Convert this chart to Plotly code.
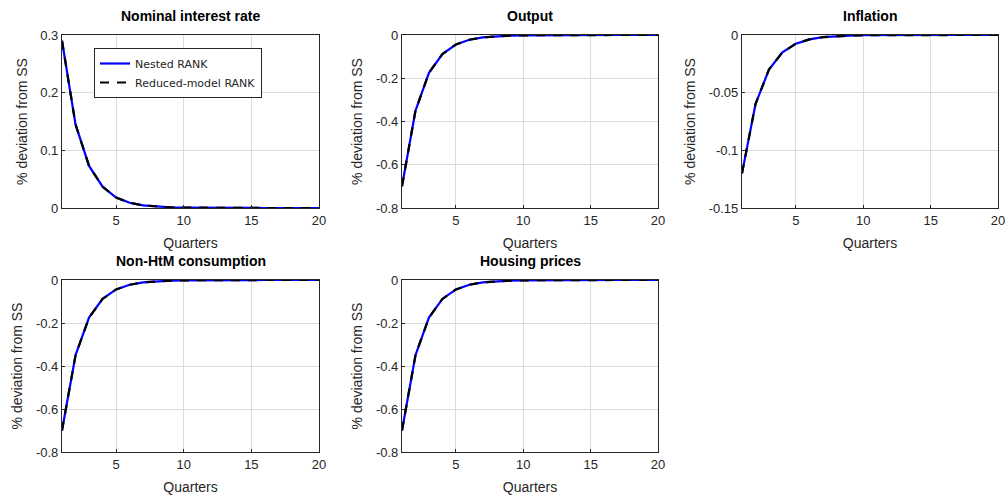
import plotly.graph_objects as go

quarters = list(range(1, 21))

rate_nested = [0.29, 0.145, 0.073, 0.037, 0.018, 0.009, 0.0045, 0.0023, 0.0011, 0.0006,
               0.0003, 0.00015, 0.00007, 0.00004, 0.00002, 0.00001, 0.0, 0.0, 0.0, 0.0]
rate_reduced = [0.29, 0.145, 0.073, 0.037, 0.018, 0.009, 0.0045, 0.0023, 0.0011, 0.0006,
                0.0003, 0.00015, 0.00007, 0.00004, 0.00002, 0.00001, 0.0, 0.0, 0.0, 0.0]
output_nested = [-0.70, -0.35, -0.175, -0.088, -0.044, -0.022, -0.011, -0.0055, -0.0027, -0.0014,
                 -0.0007, -0.00035, -0.00017, -0.00009, -0.00004, -0.00002, -0.00001, 0.0, 0.0, 0.0]
output_reduced = [-0.70, -0.35, -0.175, -0.088, -0.044, -0.022, -0.011, -0.0055, -0.0027, -0.0014,
                  -0.0007, -0.00035, -0.00017, -0.00009, -0.00004, -0.00002, -0.00001, 0.0, 0.0, 0.0]
infl_nested = [-0.12, -0.060, -0.030, -0.015, -0.0075, -0.0038, -0.0019, -0.0009, -0.0005, -0.00023,
               -0.00012, -0.00006, -0.00003, -0.000015, -0.000007, 0.0, 0.0, 0.0, 0.0, 0.0]
infl_reduced = [-0.12, -0.060, -0.030, -0.015, -0.0075, -0.0038, -0.0019, -0.0009, -0.0005, -0.00023,
                -0.00012, -0.00006, -0.00003, -0.000015, -0.000007, 0.0, 0.0, 0.0, 0.0, 0.0]
cons_nested = [-0.70, -0.35, -0.175, -0.088, -0.044, -0.022, -0.011, -0.0055, -0.0027, -0.0014,
               -0.0007, -0.00035, -0.00017, -0.00009, -0.00004, -0.00002, -0.00001, 0.0, 0.0, 0.0]
cons_reduced = [-0.70, -0.35, -0.175, -0.088, -0.044, -0.022, -0.011, -0.0055, -0.0027, -0.0014,
                -0.0007, -0.00035, -0.00017, -0.00009, -0.00004, -0.00002, -0.00001, 0.0, 0.0, 0.0]
house_nested = [-0.70, -0.35, -0.175, -0.088, -0.044, -0.022, -0.011, -0.0055, -0.0027, -0.0014,
                -0.0007, -0.00035, -0.00017, -0.00009, -0.00004, -0.00002, -0.00001, 0.0, 0.0, 0.0]
house_reduced = [-0.70, -0.35, -0.175, -0.088, -0.044, -0.022, -0.011, -0.0055, -0.0027, -0.0014,
                 -0.0007, -0.00035, -0.00017, -0.00009, -0.00004, -0.00002, -0.00001, 0.0, 0.0, 0.0]

titles = ["Nominal interest rate", "Output", "Inflation", "Non-HtM consumption", "Housing prices"]
series = [(rate_nested, rate_reduced), (output_nested, output_reduced), (infl_nested, infl_reduced),
          (cons_nested, cons_reduced), (house_nested, house_reduced)]
y_ranges = [[0, 0.3], [-0.8, 0], [-0.15, 0], [-0.8, 0], [-0.8, 0]]
y_ticks = [[0, 0.1, 0.2, 0.3], [-0.8, -0.6, -0.4, -0.2, 0], [-0.15, -0.1, -0.05, 0],
           [-0.8, -0.6, -0.4, -0.2, 0], [-0.8, -0.6, -0.4, -0.2, 0]]
y_ticktext = [["0", "0.1", "0.2", "0.3"], ["-0.8", "-0.6", "-0.4", "-0.2", "0"],
              ["-0.15", "-0.1", "-0.05", "0"], ["-0.8", "-0.6", "-0.4", "-0.2", "0"],
              ["-0.8", "-0.6", "-0.4", "-0.2", "0"]]
x_ticks = [5, 10, 15, 20]

W, H = 1008, 500
boxes = [(62, 319, 35, 208), (402, 658, 35, 208), (742, 998, 35, 208),
         (62, 319, 280, 452), (402, 658, 280, 452)]

FONT = "Liberation Sans, Arial, Helvetica, sans-serif"
AX = "#262626"

fig = go.Figure()
layout = dict(width=W, height=H, margin=dict(l=0, r=0, t=0, b=0, autoexpand=False),
              paper_bgcolor="white", plot_bgcolor="white", showlegend=True,
              font=dict(family=FONT, color=AX))
annotations = []
for i, (title, (nested, reduced)) in enumerate(zip(titles, series)):
    n = "" if i == 0 else str(i + 1)
    l, r, t, b = boxes[i]
    fig.add_trace(go.Scatter(x=quarters, y=nested, mode="lines", name="Nested RANK",
                             line=dict(color="#0000FF", width=2.2), showlegend=(i == 0),
                             xaxis="x" + n, yaxis="y" + n))
    fig.add_trace(go.Scatter(x=quarters, y=reduced, mode="lines", name="Reduced-model RANK",
                             line=dict(color="#000000", width=2.2, dash="9px,8px"), showlegend=(i == 0),
                             xaxis="x" + n, yaxis="y" + n))
    layout["xaxis" + n] = dict(domain=[l / W, r / W], anchor="y" + n, range=[1, 20], automargin=False,
                               tickvals=x_ticks, showgrid=True, gridcolor="#dcdcdc", gridwidth=1,
                               showline=True, linecolor=AX, linewidth=1.2, mirror=True,
                               ticks="inside", ticklen=3, tickcolor=AX,
                               tickfont=dict(size=13, family=FONT, color=AX),
                               title=dict(text="Quarters", font=dict(size=14, family=FONT, color=AX), standoff=11),
                               zeroline=False)
    layout["yaxis" + n] = dict(domain=[1 - b / H, 1 - t / H], anchor="x" + n, range=y_ranges[i],
                               automargin=False,
                               tickvals=y_ticks[i], ticktext=y_ticktext[i],
                               showgrid=True, gridcolor="#dcdcdc", gridwidth=1,
                               showline=True, linecolor=AX, linewidth=1.2, mirror=True,
                               ticks="inside", ticklen=3, tickcolor=AX,
                               tickfont=dict(size=13, family=FONT, color=AX),
                               title=dict(text="% deviation from SS", font=dict(size=14, family=FONT, color=AX), standoff=9),
                               zeroline=False)
    annotations.append(dict(text="<b>" + title + "</b>", x=(l + r) / 2 / W, y=1 - (t - 9) / H,
                            xref="paper", yref="paper", xanchor="center", yanchor="bottom",
                            showarrow=False, font=dict(size=14, family=FONT, color="#000000")))
layout["annotations"] = annotations
layout["legend"] = dict(x=94 / W, y=1 - 48 / H, xanchor="left", yanchor="top",
                        bordercolor=AX, borderwidth=1, bgcolor="white",
                        font=dict(size=11, family="DejaVu Sans, sans-serif", color=AX), tracegroupgap=0,
                        itemwidth=30)
fig.update_layout(**layout)
fig.write_html("out.html",
               post_script="document.body.style.margin='0';document.body.style.overflow='hidden';",
               config={"displayModeBar": False})
